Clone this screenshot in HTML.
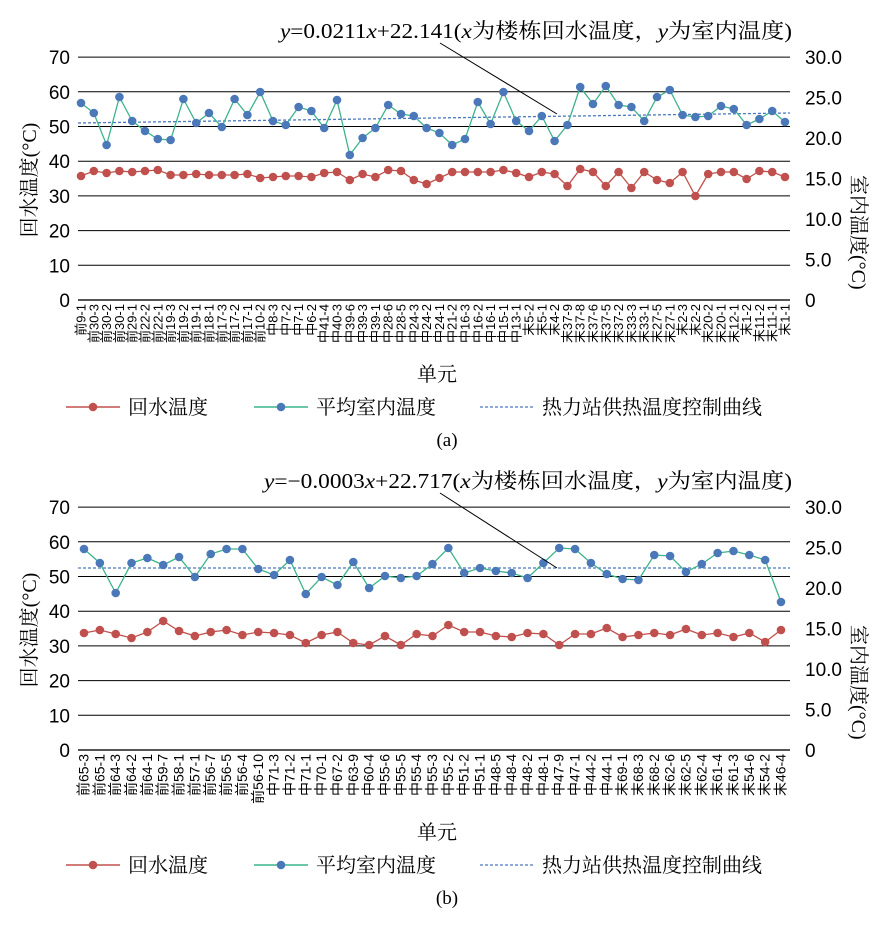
<!DOCTYPE html><html><head><meta charset="utf-8"><style>body{margin:0;background:#fff}svg{display:block;font-family:"Liberation Serif","Noto Serif CJK SC",serif}</style></head><body>
<svg id="s" width="895" height="931" xmlns="http://www.w3.org/2000/svg"></svg>
<script>
const S=document.getElementById('s');let h='';
function chart(o){
 const {y0,x0,x1,labels,blue,red,trend,ann,eq,tag,lx,ly,fs}=o;
 const step=34.7;
 for(let i=1;i<=7;i++){const y=y0-i*step;h+=`<line x1="${x0}" x2="${x1}" y1="${y}" y2="${y}" stroke="#000" stroke-width="1"/>`;
  h+=`<text x="70" y="${y+7}" font-size="19" text-anchor="end" font-family="Liberation Sans">${i*10}</text>`;}
 h+=`<text x="70" y="${y0+7}" font-size="19" text-anchor="end" font-family="Liberation Sans">0</text>`;
 for(let i=0;i<=6;i++){const y=y0-i*(7*step/6);const v=i*5;h+=`<text x="805" y="${y+7}" font-size="19" font-family="Liberation Sans">${v==0?'0':v.toFixed(1)}</text>`;}
 h+=`<line x1="${x0}" x2="${x1}" y1="${y0}" y2="${y0}" stroke="#555" stroke-width="2"/>`;
 const n=labels.length,xs=labels.map((_,i)=>lx+i*(ly-lx)/(n-1));
 labels.forEach((l,i)=>h+=`<text transform="translate(${xs[i]+4.5},${y0+4}) rotate(-90)" font-size="${fs}" text-anchor="end" font-family="Liberation Sans,Noto Sans CJK SC,sans-serif">${l}</text>`);
 h+=`<line x1="${x0}" x2="${x1}" y1="${trend[0]}" y2="${trend[1]}" stroke="#4a78c0" stroke-width="1.3" stroke-dasharray="3,2"/>`;
 [[blue,'#3cb48c','#4a78b8'],[red,'#c0504d','#c0504d']].forEach(([d,lc,mc])=>{
  h+=`<polyline fill="none" stroke="${lc}" stroke-width="1.3" points="${d.map((y,i)=>xs[i]+','+y).join(' ')}"/>`;
  d.forEach((y,i)=>h+=`<circle cx="${xs[i]}" cy="${y}" r="4.3" fill="${mc}"/>`);});
 h+=`<line x1="${ann[0]}" y1="${ann[1]}" x2="${ann[2]}" y2="${ann[3]}" stroke="#000" stroke-width="1"/>`;
 h+=`<text x="792" y="${ann[1]-5}" font-size="21" text-anchor="end" textLength="${o.eqw}" lengthAdjust="spacingAndGlyphs">${eq}</text>`;
 const cy=y0-120;
 h+=`<text transform="translate(36,${cy}) rotate(-90)" font-size="20" text-anchor="middle">回水温度(°C)</text>`;
 h+=`<text transform="translate(852,${cy-5}) rotate(90)" font-size="20" text-anchor="start">室内温度(°C)</text>`;
 const ly2=o.leg;
 h+=`<text x="437" y="${ly2-26}" font-size="20" text-anchor="middle">单元</text>`;
 h+=`<line x1="66" x2="120" y1="${ly2}" y2="${ly2}" stroke="#c0504d" stroke-width="1.5"/><circle cx="93" cy="${ly2}" r="4.3" fill="#c0504d"/><text x="128" y="${ly2+7}" font-size="20">回水温度</text>`;
 h+=`<line x1="254" x2="308" y1="${ly2}" y2="${ly2}" stroke="#3cb48c" stroke-width="1.5"/><circle cx="281" cy="${ly2}" r="4.3" fill="#4a78b8"/><text x="316" y="${ly2+7}" font-size="20">平均室内温度</text>`;
 h+=`<line x1="480" x2="534" y1="${ly2}" y2="${ly2}" stroke="#4a78c0" stroke-width="1.3" stroke-dasharray="3,2"/><text x="542" y="${ly2+7}" font-size="20">热力站供热温度控制曲线</text>`;
 h+=`<text x="447" y="${ly2+39}" font-size="19" text-anchor="middle">${tag}</text>`;
}
const L1="前9-1 前30-3 前30-2 前30-1 前29-1 前22-2 前22-1 前19-3 前19-2 前19-1 前18-1 前17-3 前17-2 前17-1 前10-2 中8-3 中7-2 中7-1 中6-2 中41-4 中40-3 中39-6 中39-3 中39-1 中28-6 中28-5 中24-3 中24-2 中24-1 中21-2 中16-3 中16-2 中16-1 中15-1 中13-1 末5-2 末5-1 末4-2 末37-9 末37-8 末37-6 末37-5 末37-2 末33-3 末33-1 末27-5 末27-1 末2-3 末2-2 末20-2 末20-1 末12-1 末1-2 末11-2 末11-1 末1-1".split(' ');
const B1=[103,113,145,97,121,131,139,140,99,123,113,127,99,115,92,121,125,107,111,128,100,155,138,128,105,114,116,128,133,145,139,102,124,92,121,131,116,141,125,87,104,86,105,107,121,97,90,115,117,116,106,109,125,119,111,122];
const R1=[176,171,173,171,172,171,170,175,175,174,175,175,175,174,178,177,176,176,177,173,172,180,174,177,170,171,180,184,178,172,172,172,172,170,173,177,172,174,186,169,172,186,172,188,172,180,183,172,196,174,172,172,179,171,172,177];
chart({y0:300,x0:78,x1:790,labels:L1,blue:B1,red:R1,trend:[123,113],ann:[440,43,557,114],eqw:512,fs:13,eq:'<tspan font-style="italic">y</tspan>=0.0211<tspan font-style="italic">x</tspan>+22.141(<tspan font-style="italic">x</tspan>为楼栋回水温度，<tspan font-style="italic">y</tspan>为室内温度)',tag:'(a)',lx:81,ly:785,leg:407});
const L2="前65-3 前65-1 前64-3 前64-2 前64-1 前59-7 前58-1 前57-1 前56-7 前56-5 前56-4 前56-10 中71-3 中71-2 中71-1 中70-1 中67-2 中63-9 中60-4 中55-6 中55-5 中55-4 中55-3 中55-2 中51-2 中51-1 中48-5 中48-4 中48-2 中48-1 中47-9 中47-1 中44-2 中44-1 末69-1 末68-3 末68-2 末62-6 末62-5 末62-4 末61-4 末61-3 末54-6 末54-2 末46-4".split(' ');
const B2=[549,563,593,563,558,565,557,577,554,549,549,569,575,560,594,577,585,562,588,576,578,576,564,548,573,568,571,573,578,563,548,549,563,574,579,580,555,556,572,564,553,551,555,560,602];
const R2=[633,630,634,638,632,621,631,636,632,630,635,632,633,635,643,635,632,643,645,636,645,634,636,625,632,632,636,637,633,634,645,634,634,628,637,635,633,635,629,635,633,637,633,642,630];
chart({y0:750,x0:78,x1:790,labels:L2,blue:B2,red:R2,trend:[568,568],ann:[440,493,557,568],eqw:528,fs:14,eq:'<tspan font-style="italic">y</tspan>=−0.0003<tspan font-style="italic">x</tspan>+22.717(<tspan font-style="italic">x</tspan>为楼栋回水温度，<tspan font-style="italic">y</tspan>为室内温度)',tag:'(b)',lx:84,ly:781,leg:865});
S.innerHTML=h;
</script></body></html>
